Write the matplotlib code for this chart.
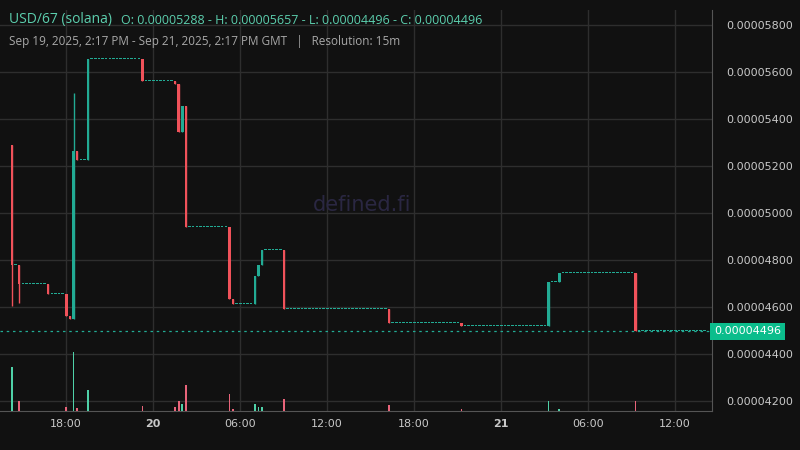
import matplotlib
matplotlib.use("Agg")
import matplotlib.pyplot as plt
from matplotlib.ticker import FuncFormatter

# price units: 1e-8
N = 192
ev_idx   = [0,    2,    10,   15,   16,   17,   18,   21,   36,   45,   46,   47,   48,   60,   61,   67,   68,   69,   75,   104,  124,  148,  151,  172]
ev_open  = [5288, 4779, 4698, 4655, 4562, 4549, 5264, 5226, 5657, 5562, 5549, 5345, 5455, 4940, 4634, 4613, 4732, 4779, 4843, 4592, 4532, 4519, 4706, 4745]
ev_close = [4779, 4698, 4655, 4562, 4549, 5264, 5226, 5657, 5562, 5549, 5345, 5455, 4940, 4634, 4613, 4732, 4779, 4843, 4592, 4532, 4519, 4706, 4745, 4496]
ev_high  = [5288, 4779, 4698, 4655, 4562, 5511, 5264, 5657, 5657, 5562, 5549, 5455, 5455, 4940, 4634, 4732, 4779, 4843, 4843, 4592, 4532, 4706, 4745, 4745]
ev_low   = [4604, 4617, 4655, 4562, 4549, 4549, 5226, 5226, 5562, 5549, 5345, 5345, 4940, 4634, 4613, 4613, 4732, 4779, 4592, 4532, 4519, 4519, 4706, 4496]
ev_vol   = [44,   10,   0.4,  4,    0.4,  59,   3,    21,   5,    4,    10,   7,    26,   17,   2,    7,    4,    4,    12,   6,    2,    10,   2,    10]
ev_vol_up = [True, False, False, False, False, True, False, True, False, False, False, True, False, False, False, True, True, True, False, False, False, True, True, False]
flat_vol = 0.5
last_price = 4496
x_tick_pos = [14.87, 38.87, 62.87, 86.87, 110.87, 134.87, 158.87, 182.87]
x_tick_lab = ["18:00", "20", "06:00", "12:00", "18:00", "21", "06:00", "12:00"]
y_ticks = [4200, 4400, 4600, 4800, 5000, 5200, 5400, 5600, 5800]

BG = "#111111"; GREEN = "#22ab94"; RED = "#f0525a"
VG = "#4fd1a8"; VR = "#e8647a"; GRID = "#2e2e2e"; TXT = "#c8c8c8"

fig = plt.figure(figsize=(8, 4.5), dpi=100, facecolor=BG)
ax = fig.add_axes([0, 1 - 411/450, 712/800, 401/450])
ax.set_facecolor(BG)
px = 200/47.0  # price units per pixel

vax = ax.twinx()
vax.set_ylim(0, 401)
vax.axis("off")

evmap = {i: k for k, i in enumerate(ev_idx)}
prev_close = ev_open[0]
vx, vh, vc = [], [], []
for i in range(N):
    if i in evmap:
        k = evmap[i]
        o, c, h, l = ev_open[k], ev_close[k], ev_high[k], ev_low[k]
        col = GREEN if c >= o else RED
        vx.append(i); vh.append(ev_vol[k]); vc.append(VG if ev_vol_up[k] else VR)
    else:
        o = c = h = l = prev_close
        col = GREEN
        vx.append(i); vh.append(flat_vol); vc.append(VG)
    prev_close = c
    ax.vlines(i, l, h, color=col, lw=1, zorder=3)
    bot = min(o, c); hgt = max(abs(c - o), px)
    ax.bar(i, hgt, bottom=bot, width=0.7, color=col, zorder=4, linewidth=0)

vax.bar(vx, vh, width=0.5, color=vc, zorder=2, linewidth=0)

ax.set_xlim(-3.3, 193.1)
ax.set_ylim(4200 - 10*px, 5800 + 15*px)
ax.set_yticks(y_ticks)
ax.yaxis.tick_right()
ax.yaxis.set_major_formatter(FuncFormatter(lambda v, p: f"{v*1e-8:.8f}"))
ax.set_xticks(x_tick_pos)
ax.set_xticklabels(x_tick_lab)
for lab in ax.get_xticklabels():
    if lab.get_text() in ("20", "21"):
        lab.set_fontweight("bold")
ax.tick_params(colors=TXT, labelsize=8, length=0, pad=6)
ax.tick_params(axis="y", left=False, labelleft=False, right=False, labelright=True, pad=10)
ax.grid(True, color=GRID, lw=1)
ax.set_axisbelow(True)
for s in ["top", "left"]:
    ax.spines[s].set_visible(False)
for s in ["right", "bottom"]:
    ax.spines[s].set_color("#555555")
ax.axhline(last_price, color=GREEN, lw=0.9, ls=(0, (2, 3)), zorder=2)
ax.text(1.003, (last_price - ax.get_ylim()[0]) / (ax.get_ylim()[1] - ax.get_ylim()[0]),
        f"{last_price*1e-8:.8f}", transform=ax.transAxes, fontsize=8, color="white",
        va="center", ha="left", bbox=dict(boxstyle="square,pad=0.35", fc="#0bbd8c", ec="none"))

fig.text(362/800, 1 - 205/450, "defined.fi", color="#2a2742", fontsize=15, ha="center", va="center")
fig.text(9/800, 1 - 20/450, "USD/67 (solana)", color="#5ccfae", fontsize=10, va="center", family="Open Sans")
fig.text(121/800, 1 - 20/450, "O: 0.00005288 - H: 0.00005657 - L: 0.00004496 - C: 0.00004496",
         color="#5ccfae", fontsize=9, va="center", family="Open Sans")
fig.text(9/800, 1 - 41/450, "Sep 19, 2025, 2:17 PM - Sep 21, 2025, 2:17 PM GMT   |   Resolution: 15m",
         color="#a8a8a8", fontsize=8.5, va="center", family="Open Sans")

fig.savefig("out.png", dpi=100, facecolor=BG)
